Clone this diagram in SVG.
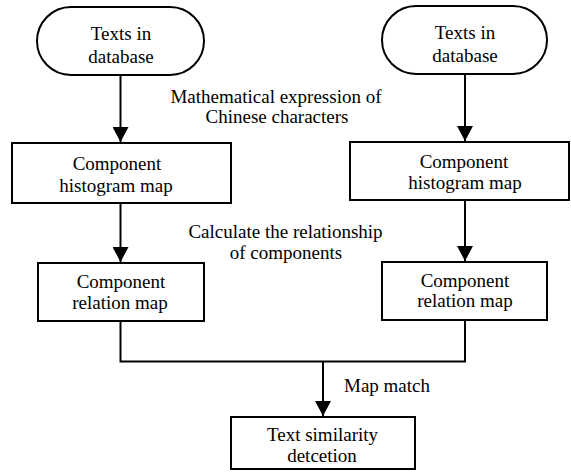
<svg xmlns="http://www.w3.org/2000/svg" width="571" height="473" viewBox="0 0 571 473">
<style>
.shape{fill:#fff;stroke:#000;stroke-width:2}
.t{font-family:"Liberation Serif","Times New Roman",serif;font-size:19px;fill:#000;text-anchor:middle}
.lbl{font-family:"Liberation Serif","Times New Roman",serif;font-size:19px;fill:#000}
.c{fill:none;stroke:#000;stroke-width:2}
</style>
<defs>
<marker id="ah" markerUnits="userSpaceOnUse" markerWidth="16" markerHeight="16" viewBox="0 0 16 16" refX="15" refY="8" orient="auto">
<path d="M0,0 L15,8 L0,16 Z" fill="#000"/>
</marker>
</defs>
<rect width="571" height="473" fill="#fff"/>
<g id="connectors">
<line class="c" x1="120.5" y1="75" x2="120.5" y2="142" marker-end="url(#ah)"/>
<line class="c" x1="465" y1="74" x2="465" y2="141" marker-end="url(#ah)"/>
<line class="c" x1="120.5" y1="203" x2="120.5" y2="262" marker-end="url(#ah)"/>
<line class="c" x1="465" y1="200" x2="465" y2="261" marker-end="url(#ah)"/>
<path class="c" d="M120.5,321 V361.5 H465 V320"/>
<line class="c" x1="323" y1="361.5" x2="323" y2="416" marker-end="url(#ah)"/>
</g>
<g id="labels">
<text class="t" x="276" y="103">Mathematical expression of</text>
<text class="t" x="277" y="123">Chinese characters</text>
<text class="t" x="285.5" y="238">Calculate the relationship</text>
<text class="t" x="286" y="259">of components</text>
<text class="lbl" x="344" y="392">Map match</text>
</g>
<g id="start-left">
<rect class="shape" x="37" y="7" width="167" height="68" rx="34" ry="34"/>
<text class="t" x="121" y="40">Texts in</text>
<text class="t" x="121" y="63">database</text>
</g>
<g id="start-right">
<rect class="shape" x="382" y="6" width="165" height="68" rx="34" ry="34"/>
<text class="t" x="465" y="39">Texts in</text>
<text class="t" x="465" y="62">database</text>
</g>
<g id="hist-left">
<rect class="shape" x="12" y="143" width="219" height="60"/>
<text class="t" x="117" y="170">Component</text>
<text class="t" x="116" y="192">histogram map</text>
</g>
<g id="hist-right">
<rect class="shape" x="350" y="142" width="219" height="58"/>
<text class="t" x="464" y="168">Component</text>
<text class="t" x="465" y="189">histogram map</text>
</g>
<g id="rel-left">
<rect class="shape" x="38" y="263" width="166" height="58"/>
<text class="t" x="121" y="288">Component</text>
<text class="t" x="120" y="309">relation map</text>
</g>
<g id="rel-right">
<rect class="shape" x="382" y="262" width="165" height="58"/>
<text class="t" x="465" y="287">Component</text>
<text class="t" x="465" y="307">relation map</text>
</g>
<g id="similarity">
<rect class="shape" x="231" y="417" width="184" height="52"/>
<text class="t" x="322.5" y="441">Text similarity</text>
<text class="t" x="322" y="462">detcetion</text>
</g>
</svg>
